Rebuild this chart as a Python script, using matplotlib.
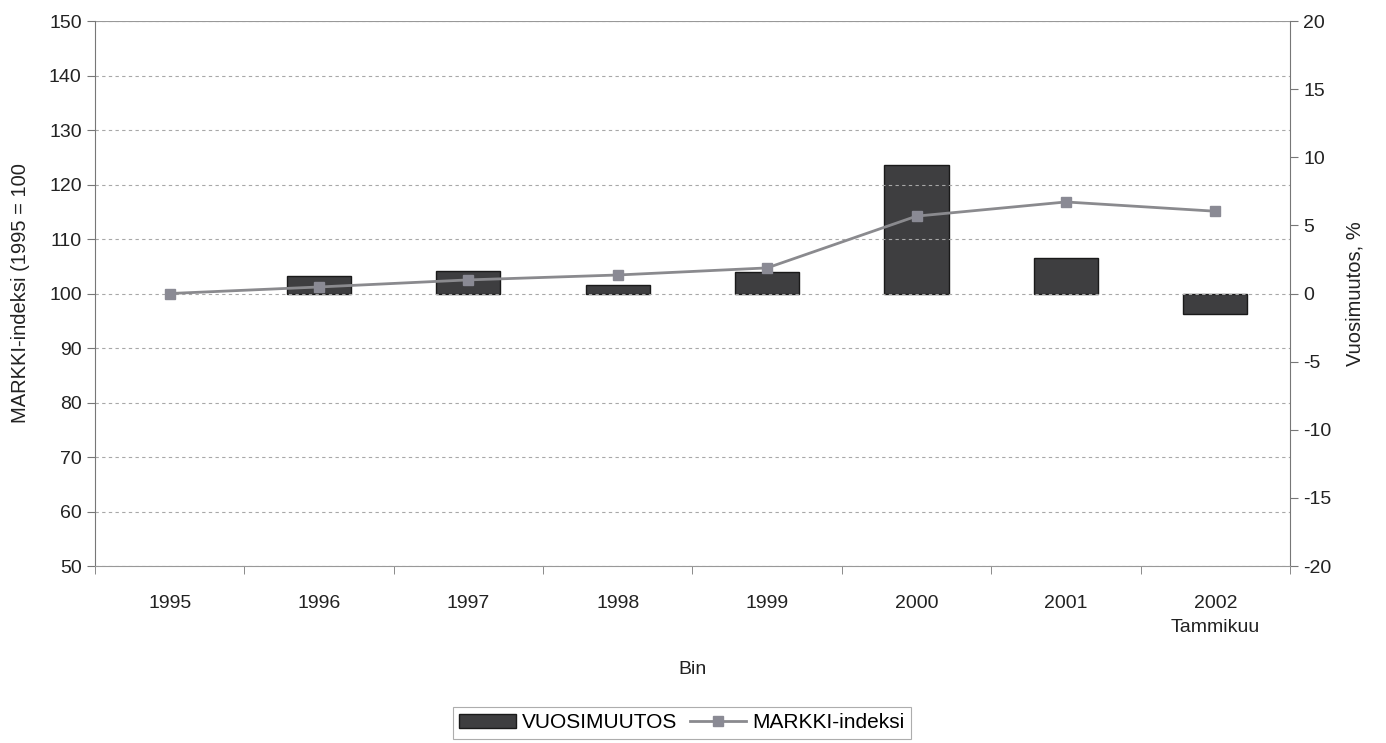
import numpy as np
import matplotlib.pyplot as plt

plt.rcParams['font.family'] = ['Liberation Sans', 'DejaVu Sans']
plt.rcParams['axes.unicode_minus'] = False

# Vuodet ja arvot (1995 perusvuosi, ei muutosta)
vuodet = ['1995', '1996', '1997', '1998', '1999', '2000', '2001', '2002\nTammikuu']
vuosimuutos = [np.nan, 1.3, 1.65, 0.6, 1.6, 9.4, 2.6, -1.5]
markki_indeksi = [100.0, 101.2, 102.5, 103.4, 104.7, 114.2, 116.8, 115.1]

x = np.arange(len(vuodet))

fig = plt.figure(figsize=(13.86, 7.43), dpi=100)
ax = fig.add_axes([0.0685, 0.2382, 0.8622, 0.7335])
ax2 = ax.twinx()

# Pylväät oikealle akselille, viiva vasemmalle
ax.set_zorder(ax2.get_zorder() + 1)
ax.patch.set_visible(False)

bars = ax2.bar(x, vuosimuutos, width=0.43, color='#3e3e40', edgecolor='#1a1a1a',
               linewidth=1, label='VUOSIMUUTOS')
line, = ax.plot(x, markki_indeksi, color='#8a8a8e', linewidth=2, marker='s',
                markersize=7, markerfacecolor='#8a8a94', markeredgecolor='#8a8a94',
                label='MARKKI-indeksi')

ax.set_xlim(-0.5, len(vuodet) - 0.5)
ax.set_ylim(50, 150)
ax.set_yticks(np.arange(50, 151, 10))
ax2.set_ylim(-20, 20)
ax2.set_yticks(np.arange(-20, 21, 5))

ax.grid(axis='y', color='#a8a8a8', linestyle=(0, (3, 3)), linewidth=0.8)
ax.set_axisbelow(True)

# Jakoviivat luokkien väliin
ax.set_xticks(x)
ax.set_xticklabels(vuodet, fontsize=14, color='#222222', linespacing=1.5)
ax.set_xticks(np.arange(-0.5, len(vuodet), 1), minor=True)
ax.tick_params(axis='x', which='major', length=0, pad=21)
ax.tick_params(axis='x', which='minor', length=6, color='#777777')
ax.tick_params(axis='y', labelsize=14, length=6, color='#777777', labelcolor='#222222')
ax2.tick_params(axis='y', labelsize=14, length=6, color='#777777', labelcolor='#222222')

for a in (ax, ax2):
    for s in a.spines.values():
        s.set_visible(False)
ax.spines['left'].set_visible(True)
ax.spines['left'].set_color('#777777')
ax.spines['bottom'].set_visible(True)
ax.spines['bottom'].set_color('#999999')
ax.spines['bottom'].set_linewidth(0.8)
ax2.spines['right'].set_visible(True)
ax2.spines['right'].set_color('#777777')
ax.axhline(150, color='#999999', linewidth=0.8)

ax.set_ylabel('MARKKI-indeksi (1995 = 100', fontsize=14.5, color='#222222', labelpad=14)
ax2.set_ylabel('Vuosimuutos, %', fontsize=14.5, color='#222222', labelpad=10)
ax.set_xlabel('Bin', fontsize=14, color='#222222', labelpad=18)

leg = fig.legend(handles=[bars, line], loc='lower center', bbox_to_anchor=(0.492, -0.008),
                 ncol=2, fontsize=15, frameon=True, fancybox=False, edgecolor='#999999',
                 handlelength=2.7, handletextpad=0.3, columnspacing=0.6,
                 borderpad=0.3)
leg.get_frame().set_linewidth(0.8)

fig.savefig('out.png', dpi=100)
